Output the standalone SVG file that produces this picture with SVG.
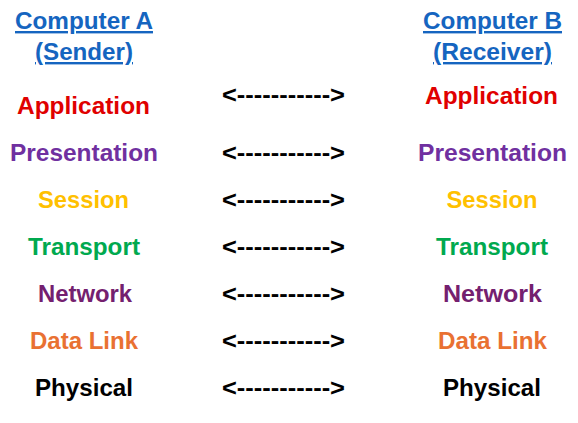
<svg xmlns="http://www.w3.org/2000/svg" width="578" height="423" viewBox="0 0 578 423">
<style>
text{font-family:"Liberation Sans",Arial,sans-serif;font-weight:700;font-size:24px;text-anchor:middle}
.hd{fill:#1565C0;text-decoration:underline}
.app{fill:#E00000}
.pre{fill:#7030A0}
.ses{fill:#FFC000}
.tra{fill:#00A94F}
.net{fill:#74206F}
.dl{fill:#E97132}
.phy{fill:#000}
.arr{fill:#000;font-size:23px}
</style>
<rect width="578" height="423" fill="#fff"/>
<g id="computer-a">
<text class="hd" x="84" y="29" textLength="138" lengthAdjust="spacingAndGlyphs">Computer A</text>
<text class="hd" x="84" y="60" textLength="98" lengthAdjust="spacingAndGlyphs">(Sender)</text>
</g>
<g id="computer-b">
<text class="hd" x="492.5" y="29" textLength="139" lengthAdjust="spacingAndGlyphs">Computer B</text>
<text class="hd" x="492.5" y="60" textLength="119" lengthAdjust="spacingAndGlyphs">(Receiver)</text>
</g>
<g id="a-application"><text class="app" x="83.5" y="114" textLength="133" lengthAdjust="spacingAndGlyphs">Application</text></g>
<g id="a-presentation"><text class="pre" x="84" y="161" textLength="148" lengthAdjust="spacingAndGlyphs">Presentation</text></g>
<g id="a-session"><text class="ses" x="83.5" y="208" textLength="91" lengthAdjust="spacingAndGlyphs">Session</text></g>
<g id="a-transport"><text class="tra" x="84" y="255" textLength="112" lengthAdjust="spacingAndGlyphs">Transport</text></g>
<g id="a-network"><text class="net" x="85" y="302" textLength="94" lengthAdjust="spacingAndGlyphs">Network</text></g>
<g id="a-datalink"><text class="dl" x="84" y="349" textLength="108" lengthAdjust="spacingAndGlyphs">Data Link</text></g>
<g id="a-physical"><text class="phy" x="84" y="396" textLength="98" lengthAdjust="spacingAndGlyphs">Physical</text></g>
<g id="b-application"><text class="app" x="491.5" y="104" textLength="133" lengthAdjust="spacingAndGlyphs">Application</text></g>
<g id="b-presentation"><text class="pre" x="492.5" y="161" textLength="149" lengthAdjust="spacingAndGlyphs">Presentation</text></g>
<g id="b-session"><text class="ses" x="492" y="208" textLength="91" lengthAdjust="spacingAndGlyphs">Session</text></g>
<g id="b-transport"><text class="tra" x="492" y="255" textLength="112" lengthAdjust="spacingAndGlyphs">Transport</text></g>
<g id="b-network"><text class="net" x="492.5" y="302" textLength="99" lengthAdjust="spacingAndGlyphs">Network</text></g>
<g id="b-datalink"><text class="dl" x="492.5" y="349" textLength="109" lengthAdjust="spacingAndGlyphs">Data Link</text></g>
<g id="b-physical"><text class="phy" x="492" y="396" textLength="98" lengthAdjust="spacingAndGlyphs">Physical</text></g>
<g id="connectors">
<text class="arr" x="283.5" y="103" textLength="123" lengthAdjust="spacingAndGlyphs">&lt;-----------&gt;</text>
<text class="arr" x="283.5" y="161" textLength="123" lengthAdjust="spacingAndGlyphs">&lt;-----------&gt;</text>
<text class="arr" x="283.5" y="208" textLength="123" lengthAdjust="spacingAndGlyphs">&lt;-----------&gt;</text>
<text class="arr" x="283.5" y="255" textLength="123" lengthAdjust="spacingAndGlyphs">&lt;-----------&gt;</text>
<text class="arr" x="283.5" y="302" textLength="123" lengthAdjust="spacingAndGlyphs">&lt;-----------&gt;</text>
<text class="arr" x="283.5" y="349" textLength="123" lengthAdjust="spacingAndGlyphs">&lt;-----------&gt;</text>
<text class="arr" x="283.5" y="396" textLength="123" lengthAdjust="spacingAndGlyphs">&lt;-----------&gt;</text>
</g>
</svg>
